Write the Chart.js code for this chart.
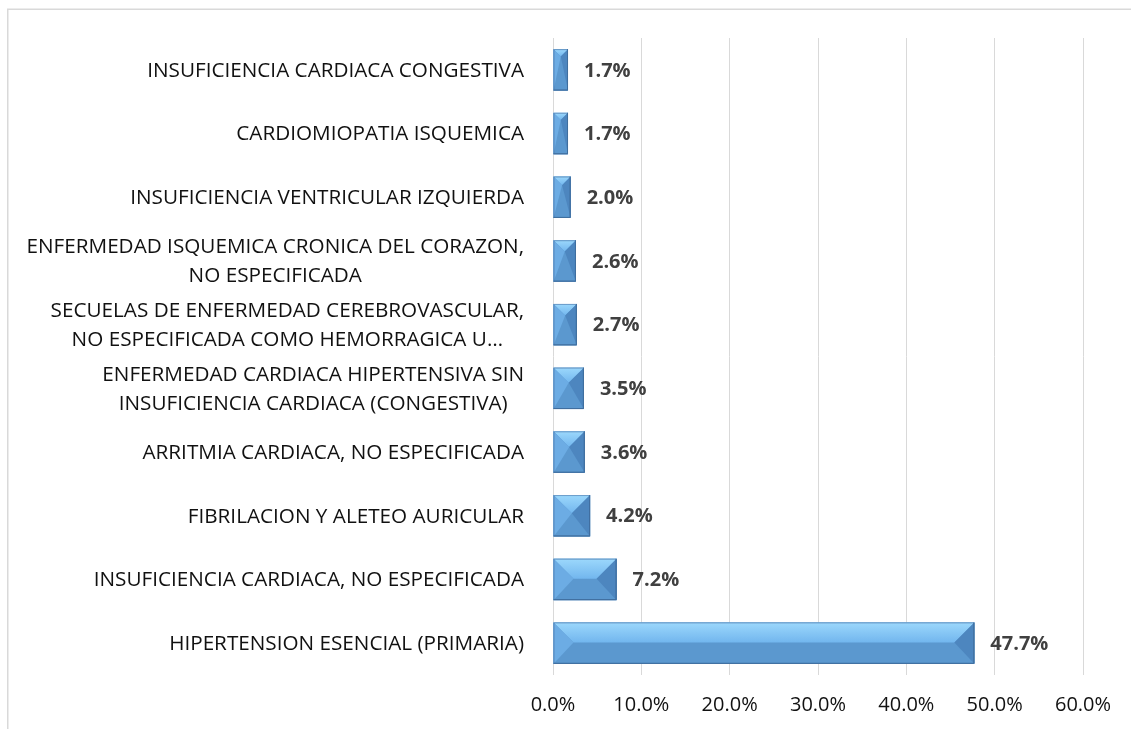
<!DOCTYPE html>
<html>
<head>
<meta charset="utf-8">
<script src="https://cdn.jsdelivr.net/npm/chart.js@4/dist/chart.umd.min.js"></script>
<style>
  html, body { margin: 0; padding: 0; background: #ffffff; }
  #wrap { width: 1131px; height: 729px; }
</style>
</head>
<body>
<div id="wrap"><canvas id="c" width="1131" height="729"></canvas></div>
<script>
// ---- data ----
const categories = [
  ["INSUFICIENCIA CARDIACA CONGESTIVA"],
  ["CARDIOMIOPATIA ISQUEMICA"],
  ["INSUFICIENCIA VENTRICULAR IZQUIERDA"],
  ["ENFERMEDAD ISQUEMICA CRONICA DEL CORAZON,", "NO ESPECIFICADA"],
  ["SECUELAS DE ENFERMEDAD CEREBROVASCULAR,", "NO ESPECIFICADA COMO HEMORRAGICA U\u2026"],
  ["ENFERMEDAD CARDIACA HIPERTENSIVA SIN", "INSUFICIENCIA CARDIACA (CONGESTIVA)"],
  ["ARRITMIA CARDIACA, NO ESPECIFICADA"],
  ["FIBRILACION Y ALETEO AURICULAR"],
  ["INSUFICIENCIA CARDIACA, NO ESPECIFICADA"],
  ["HIPERTENSION ESENCIAL (PRIMARIA)"]
];
const percentValues = [1.7, 1.7, 2.0, 2.6, 2.7, 3.5, 3.6, 4.2, 7.2, 47.7];
const xTicks = [0, 10, 20, 30, 40, 50, 60];

const FONT = "'Open Sans', 'DejaVu Sans', sans-serif";

// background + partial frame
const framePlugin = {
  id: 'frame',
  beforeDraw(chart) {
    const ctx = chart.ctx;
    ctx.save();
    ctx.fillStyle = '#ffffff';
    ctx.fillRect(0, 0, chart.width, chart.height);
    ctx.strokeStyle = '#D9D9D9';
    ctx.lineWidth = 1.5;
    ctx.beginPath();
    ctx.moveTo(7.75, chart.height);
    ctx.lineTo(7.75, 9.25);
    ctx.lineTo(chart.width, 9.25);
    ctx.stroke();
    ctx.restore();
  }
};

// bevel facets over each bar
const bevelPlugin = {
  id: 'bevel',
  afterDatasetsDraw(chart) {
    const ctx = chart.ctx;
    const meta = chart.getDatasetMeta(0);
    meta.data.forEach(bar => {
      const p = bar.getProps(['x', 'y', 'base', 'height'], true);
      const L = Math.min(p.base, p.x), R = Math.max(p.base, p.x);
      const T = p.y - p.height / 2, B = p.y + p.height / 2;
      const w = R - L, h = B - T;
      const b = Math.min(20, w / 2, h / 2);
      ctx.save();
      // main face
      ctx.fillStyle = '#5B98CF';
      ctx.fillRect(L, T, w, h);
      // top facet
      const g = ctx.createLinearGradient(0, T, 0, T + b);
      g.addColorStop(0, '#9CD8FC');
      g.addColorStop(1, '#72B6EE');
      ctx.fillStyle = g;
      ctx.beginPath();
      ctx.moveTo(L, T); ctx.lineTo(R, T); ctx.lineTo(R - b, T + b); ctx.lineTo(L + b, T + b); ctx.closePath();
      ctx.fill();
      // left facet
      ctx.fillStyle = '#6CACE4';
      ctx.beginPath();
      ctx.moveTo(L, T); ctx.lineTo(L + b, T + b); ctx.lineTo(L, B); ctx.closePath();
      ctx.fill();
      // right facet
      ctx.fillStyle = '#4D86BF';
      ctx.beginPath();
      ctx.moveTo(R, T); ctx.lineTo(R - b, T + b); ctx.lineTo(R, B); ctx.closePath();
      ctx.fill();
      // outline
      ctx.strokeStyle = 'rgba(70,110,160,0.55)';
      ctx.lineWidth = 1;
      ctx.strokeRect(L + 0.5, T + 0.5, w - 1, h - 1);
      ctx.strokeStyle = '#3F6E9E';
      ctx.beginPath();
      ctx.moveTo(L, B - 0.5); ctx.lineTo(R - 0.5, B - 0.5); ctx.lineTo(R - 0.5, T);
      ctx.stroke();
      ctx.restore();
    });
  }
};

// value labels
const valueLabelPlugin = {
  id: 'valueLabels',
  afterDatasetsDraw(chart) {
    const ctx = chart.ctx;
    const meta = chart.getDatasetMeta(0);
    ctx.save();
    ctx.font = "bold 20px " + FONT;
    ctx.fillStyle = '#404040';
    ctx.textAlign = 'left';
    ctx.textBaseline = 'middle';
    meta.data.forEach((bar, i) => {
      const p = bar.getProps(['x', 'y'], true);
      ctx.fillText(percentValues[i].toFixed(1) + '%', p.x + 16, p.y + 1);
    });
    ctx.restore();
  }
};

// category labels: block right-aligned, lines centered within block
const catLabelPlugin = {
  id: 'catLabels',
  afterDraw(chart) {
    const ctx = chart.ctx;
    const yScale = chart.scales.y;
    const rightEdge = chart.chartArea.left - 29;
    const lineH = 29;
    ctx.save();
    ctx.font = "20.7px " + FONT;
    ctx.fillStyle = '#111111';
    ctx.textAlign = 'center';
    ctx.textBaseline = 'middle';
    categories.forEach((lines, i) => {
      const cy = yScale.getPixelForTick(i);
      const maxW = Math.max(...lines.map(s => ctx.measureText(s).width));
      const cx = rightEdge - maxW / 2;
      const y0 = cy - (lines.length - 1) * lineH / 2;
      lines.forEach((s, k) => ctx.fillText(s, cx, y0 + k * lineH + 1));
    });
    ctx.restore();
  }
};

new Chart(document.getElementById('c'), {
  type: 'bar',
  data: {
    labels: categories,
    datasets: [{
      data: percentValues,
      backgroundColor: '#5B98CF',
      borderWidth: 0,
      categoryPercentage: 1.0,
      barPercentage: 0.65
    }]
  },
  options: {
    indexAxis: 'y',
    responsive: false,
    animation: false,
    layout: { padding: { left: 0, top: 38, right: 48, bottom: 0 } },
    plugins: { legend: { display: false }, tooltip: { enabled: false } },
    scales: {
      x: {
        min: 0,
        max: 60,
        afterBuildTicks(scale) { scale.ticks = xTicks.map(v => ({ value: v })); },
        afterFit(scale) { scale.height = 54; },
        grid: { color: '#D9D9D9', lineWidth: 1, drawTicks: false },
        border: { display: false },
        ticks: {
          padding: 18,
          color: '#111111',
          font: { family: FONT, size: 20 },
          callback: v => Number(v).toFixed(1) + '%'
        }
      },
      y: {
        afterFit(scale) { scale.width = 553; },
        grid: { display: false, drawTicks: false },
        border: { display: false },
        ticks: { display: false }
      }
    }
  },
  plugins: [framePlugin, bevelPlugin, valueLabelPlugin, catLabelPlugin]
});
</script>
</body>
</html>
